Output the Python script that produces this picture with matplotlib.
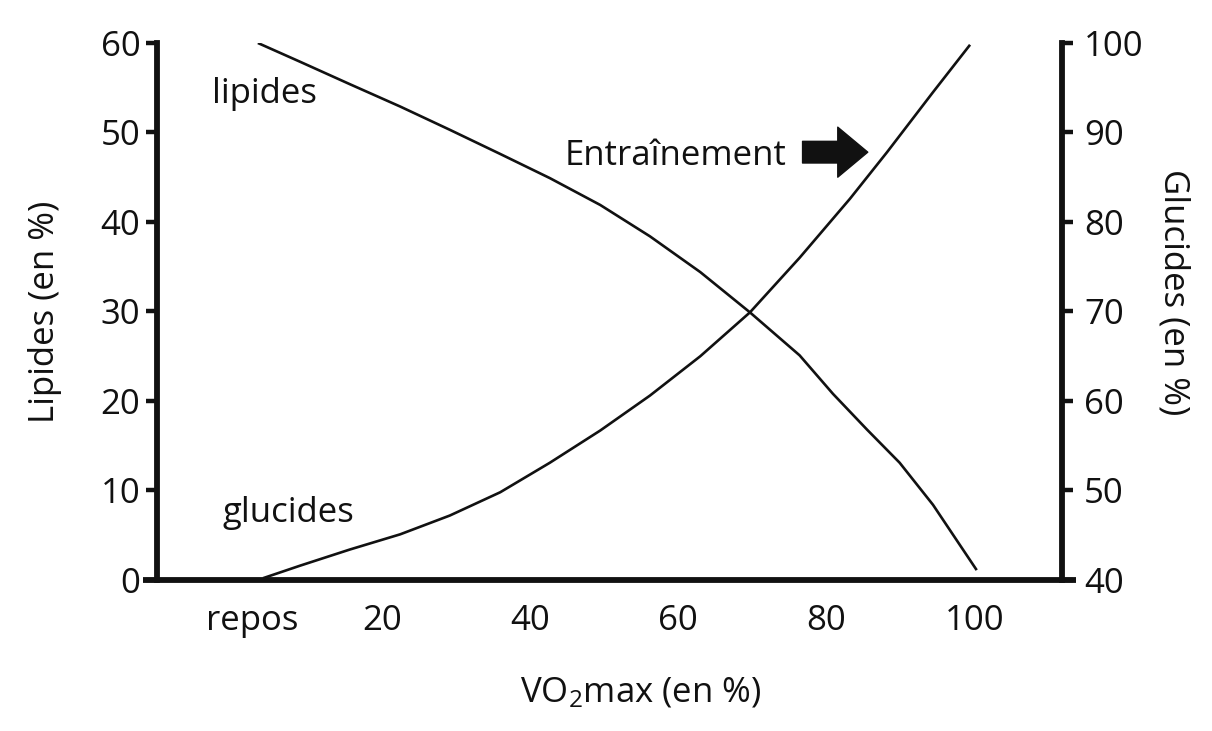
import matplotlib
matplotlib.use("Agg")
import matplotlib.pyplot as plt

plt.rcParams['font.family'] = ['Open Sans', 'DejaVu Sans']
plt.rcParams['mathtext.fontset'] = 'custom'
plt.rcParams['mathtext.rm'] = 'Open Sans'
plt.rcParams['mathtext.it'] = 'Open Sans'
plt.rcParams['mathtext.default'] = 'regular'

INK = '#111111'

# % VO2max
lip_x = [3.3, 9.0, 15.7, 22.5, 29.2, 36.0, 42.7, 49.5, 56.2, 63.0, 69.7,
         76.4, 80.9, 85.5, 89.9, 94.4, 100.3]
# lipid share (left axis, %)
lip_y = [60.0, 57.9, 55.4, 52.9, 50.3, 47.6, 44.9, 41.9, 38.4, 34.4, 29.9,
         25.1, 20.8, 16.8, 13.1, 8.4, 1.1]

glu_x = [4.0, 9.0, 15.7, 22.5, 29.2, 36.0, 42.7, 49.5, 56.2, 63.0, 69.7,
         76.4, 83.2, 88.2, 94.4, 99.4]
# carbohydrate share (right axis, %)
glu_y = [40.2, 41.6, 43.4, 45.1, 47.2, 49.8, 53.1, 56.7, 60.6, 65.0, 69.9,
         76.0, 82.6, 87.8, 94.5, 99.8]

x_ticks = [2.5, 20, 40, 60, 80, 100]
x_labels = ['repos', '20', '40', '60', '80', '100']
left_ticks = [0, 10, 20, 30, 40, 50, 60]
right_ticks = [40, 50, 60, 70, 80, 90, 100]

fig = plt.figure(figsize=(12.12, 7.31), dpi=100)
ax = fig.add_axes([0.118, 0.2066, 0.7698, 0.7346])
ax2 = ax.twinx()

ax.set_xlim(-12.2, 113.7)
ax.set_ylim(0, 60)
ax2.set_ylim(40, 100)

ax.plot(lip_x, lip_y, color=INK, lw=1.9, solid_joinstyle='round', solid_capstyle='butt')
ax2.plot(glu_x, glu_y, color=INK, lw=1.9, solid_joinstyle='round', solid_capstyle='butt')

fs = 25
spine_w = 4.2

for a in (ax, ax2):
    a.spines['top'].set_visible(False)
    a.patch.set_visible(False)
ax.spines['right'].set_visible(False)
ax2.spines['left'].set_visible(False)
ax2.spines['bottom'].set_visible(False)

ax.spines['left'].set_position(('data', -10.3))
ax.spines['left'].set_linewidth(spine_w)
ax.spines['bottom'].set_linewidth(spine_w)
ax.spines['left'].set_capstyle('projecting')
ax.spines['bottom'].set_capstyle('butt')
ax2.spines['right'].set_position(('data', 111.8))
ax2.spines['right'].set_linewidth(spine_w)
ax2.spines['right'].set_capstyle('projecting')
for s in ('left', 'bottom'):
    ax.spines[s].set_color(INK)
ax2.spines['right'].set_color(INK)

ax.set_xticks(x_ticks)
ax.set_xticklabels(x_labels)
ax.tick_params(axis='x', length=0, pad=17, labelsize=fs, labelcolor=INK)
ax.set_yticks(left_ticks)
ax.tick_params(axis='y', direction='out', length=8, width=3.2, pad=4,
               labelsize=fs, color=INK, labelcolor=INK)
ax2.set_yticks(right_ticks)
ax2.tick_params(axis='y', direction='out', length=8, width=3.2, pad=8,
                labelsize=fs, color=INK, labelcolor=INK)

ax.set_ylabel('Lipides (en %)', fontsize=fs, color=INK, va='center', ha='center')
ax.yaxis.set_label_coords(-0.105, 0.5)
ax2.set_ylabel('Glucides (en %)', fontsize=fs, color=INK, rotation=270,
               va='center', ha='center')
ax2.yaxis.set_label_coords(1.105, 0.536)
ax.set_xlabel('VO$_2$max (en %)', fontsize=fs, color=INK, va='center', ha='center')
ax.xaxis.set_label_coords(0.533, -0.2104)

ax.text(-2.9, 53.3, 'lipides', fontsize=fs, color=INK, ha='left', va='baseline')
ax.text(-1.5, 6.5, 'glucides', fontsize=fs, color=INK, ha='left', va='baseline')
ax.text(44.7, 46.4, 'Entraînement', fontsize=fs, color=INK, ha='left', va='baseline')
ax.annotate('', xy=(85.6, 47.8), xytext=(76.8, 47.8),
            arrowprops=dict(arrowstyle='simple,head_length=0.9,head_width=1.5,tail_width=0.65',
                            color=INK, mutation_scale=24, shrinkA=0, shrinkB=0))

fig.savefig('out.png', dpi=100, facecolor='white')
